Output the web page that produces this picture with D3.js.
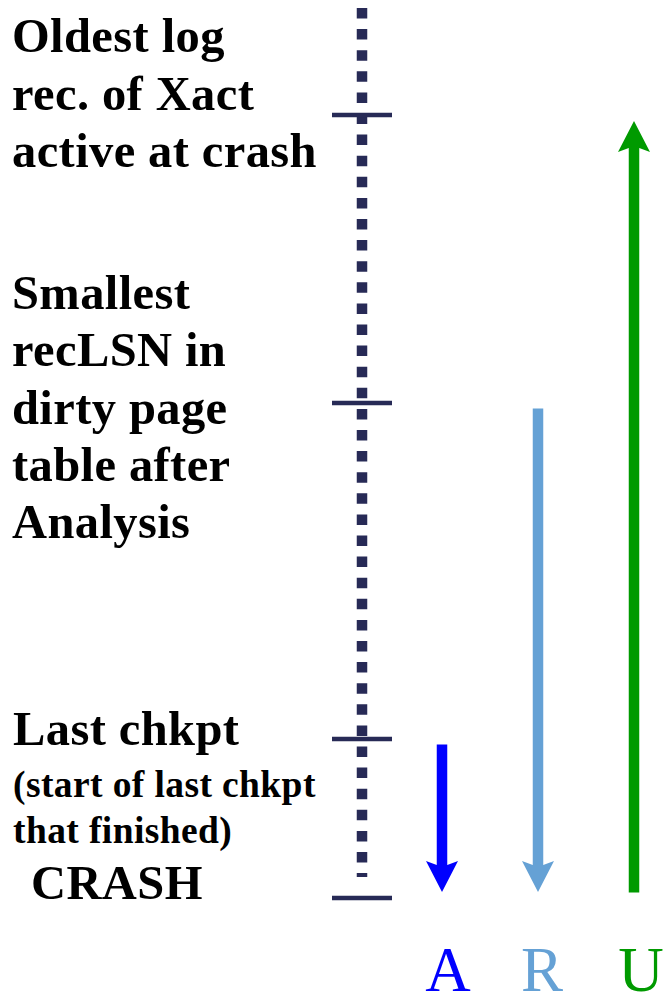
<!DOCTYPE html>
<html>
<head>
<meta charset="utf-8">
<script src="https://cdn.jsdelivr.net/npm/d3@7"></script>
<style>
  html, body { margin: 0; padding: 0; background: #fff; }
  svg { display: block; }
  .lbl { font-family: "Liberation Serif", "Times New Roman", serif; font-weight: bold; fill: #000; letter-spacing: 0.4px; }
  .phase { font-family: "Liberation Serif", "Times New Roman", serif; }
</style>
</head>
<body>
<div id="chart"></div>
<script>
// log positions (top = older, bottom = crash), in log offset units
const events = ["oldest", "recLSN", "chkpt", "crash"];
const eventPos = [115, 403, 739, 898];
const eventLines = [
    ["Oldest log", "rec. of Xact", "active at crash"],
    ["Smallest", "recLSN in", "dirty page", "table after", "Analysis"],
    ["Last chkpt", "(start of last chkpt", "that finished)"],
    ["CRASH"]
];

// recovery phases: name, where the pass starts and where it ends
const phases = ["A", "R", "U"];
const phaseFrom = ["chkpt", "recLSN", "crash"];
const phaseTo = ["crash", "crash", "oldest"];

const logStart = 8, logEnd = 877;

const width = 667, height = 996;
const lineColor = "#272a56";
const phaseColor = { A: "#0000ff", R: "#65a1d5", U: "#009a00" };
const phaseX = { A: 442, R: 538, U: 634 };
const phaseLabelX = { A: 448, R: 542, U: 641 };

const svg = d3.select("#chart").append("svg")
    .attr("width", width)
    .attr("height", height);

const y = d3.scaleLinear().domain([0, 996]).range([0, height]);
const posOf = name => eventPos[events.indexOf(name)];

// dotted log line
const lineX = 362;
svg.append("line")
    .attr("x1", lineX).attr("x2", lineX)
    .attr("y1", y(logStart)).attr("y2", y(logEnd))
    .attr("stroke", lineColor)
    .attr("stroke-width", 10.5)
    .attr("stroke-dasharray", "10.5 10.6");

// ticks
svg.selectAll("line.tick")
    .data(eventPos)
    .enter().append("line")
    .attr("class", "tick")
    .attr("x1", lineX - 30).attr("x2", lineX + 30)
    .attr("y1", d => y(d)).attr("y2", d => y(d))
    .attr("stroke", lineColor)
    .attr("stroke-width", 4.5);

// labels: first baseline offset from the tick, font size, line step
const big = 48.5, small = 37.5;
const labelLayout = [
    { dy: -63, x: 12, sizes: [big, big, big], step: 57.5 },
    { dy: -94, x: 12, sizes: [big, big, big, big, big], step: 57.3 },
    { dy: 6, x: 13, sizes: [big, small, small], steps: [52, 46] },
    { dy: 1, x: 31, sizes: [big], step: 0 }
];

eventLines.forEach((lines, i) => {
    const lay = labelLayout[i];
    let base = y(eventPos[i]) + lay.dy;
    lines.forEach((txt, j) => {
        svg.append("text")
            .attr("class", "lbl")
            .attr("x", lay.x)
            .attr("y", base)
            .attr("font-size", lay.sizes[j])
            .text(txt);
        base += lay.steps ? (lay.steps[j] || 0) : lay.step;
    });
});

// phase arrows
const pad = 5.5, shaftW = 10.5, headW = 32, headL = 31, notch = 4;
phases.forEach((p, i) => {
    const y0 = y(posOf(phaseFrom[i]));
    const y1 = y(posOf(phaseTo[i]));
    const dir = y1 > y0 ? 1 : -1;
    const start = y0 + dir * pad;
    const tip = y1 - dir * (pad + 0.5);
    const hb = tip - dir * headL;
    const x = phaseX[p];
    const pts = [
        [x - shaftW / 2, start],
        [x + shaftW / 2, start],
        [x + shaftW / 2, hb + dir * notch],
        [x + headW / 2, hb],
        [x, tip],
        [x - headW / 2, hb],
        [x - shaftW / 2, hb + dir * notch]
    ];
    svg.append("path")
        .attr("d", d3.line()(pts) + "Z")
        .attr("fill", phaseColor[p]);

    svg.append("text")
        .attr("class", "phase")
        .attr("x", phaseLabelX[p])
        .attr("y", 991)
        .attr("text-anchor", "middle")
        .attr("font-size", 63)
        .attr("fill", phaseColor[p])
        .text(p);
});
</script>
</body>
</html>
